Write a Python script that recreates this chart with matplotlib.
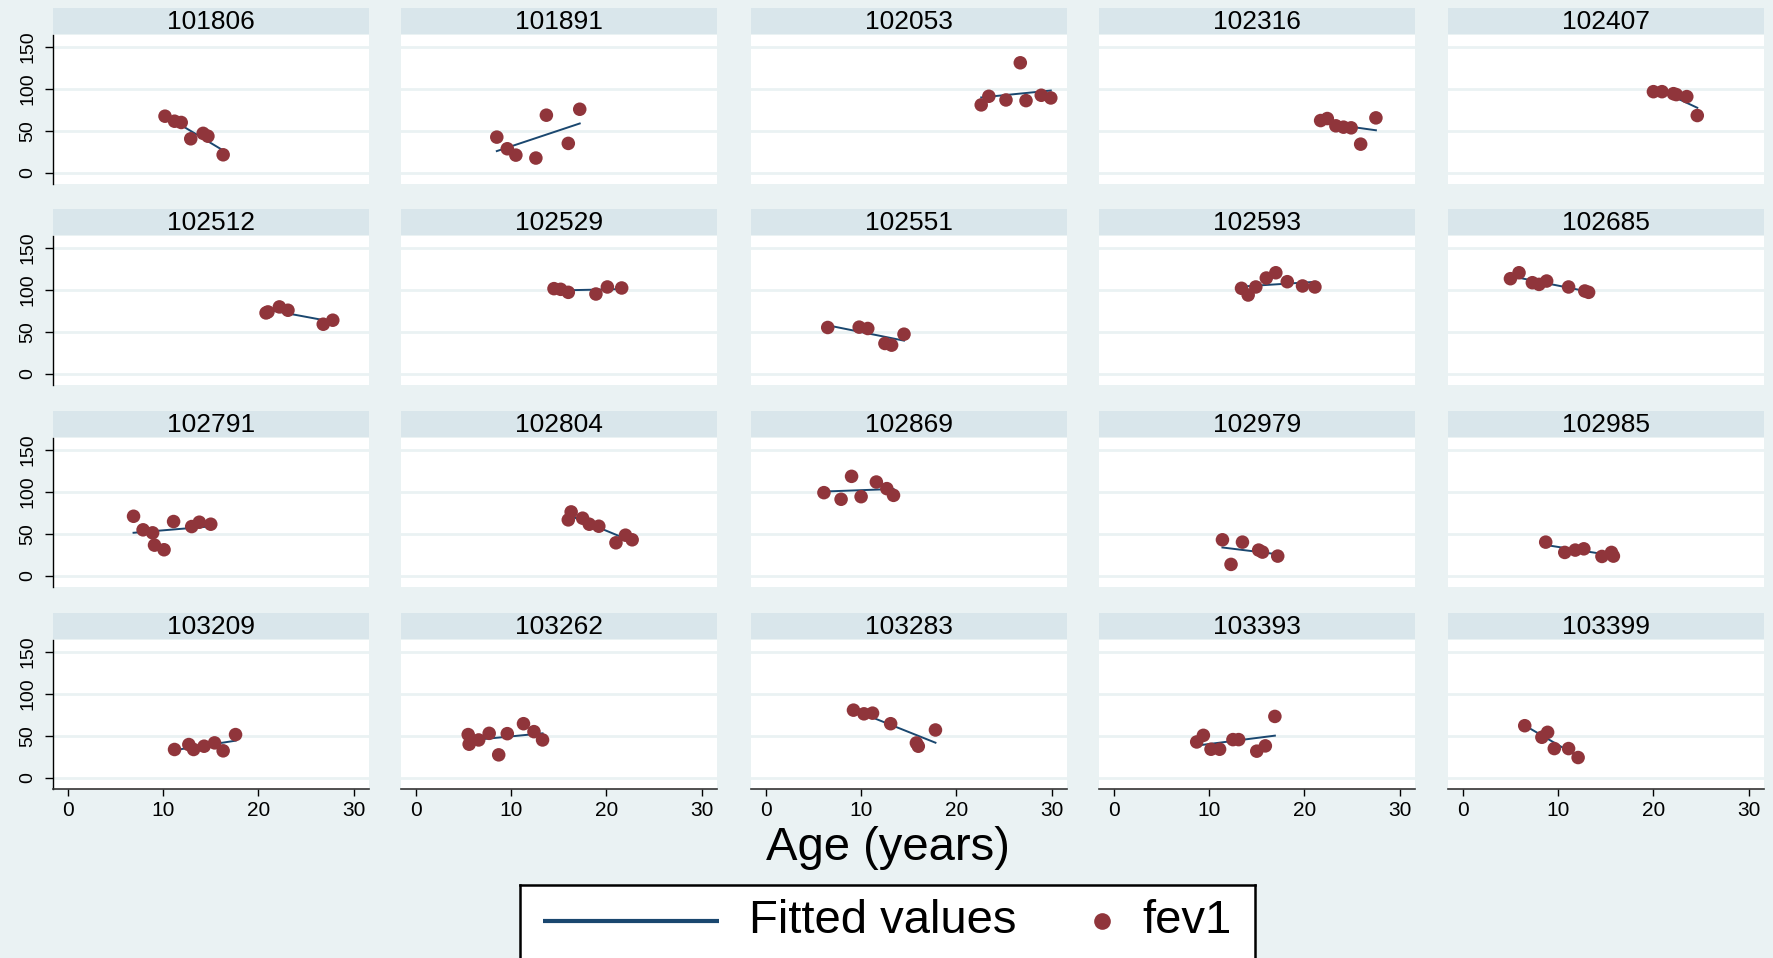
import numpy as np
import matplotlib
matplotlib.use("Agg")
import matplotlib.pyplot as plt

plt.rcParams['font.family'] = ['Liberation Sans', 'DejaVu Sans']

# ids of the 20 subjects (panel titles)
ids = ["101806", "101891", "102053", "102316", "102407",
       "102512", "102529", "102551", "102593", "102685",
       "102791", "102804", "102869", "102979", "102985",
       "103209", "103262", "103283", "103393", "103399"]

# age (years) per subject
ages = [
    [10.2, 11.2, 11.9, 12.9, 14.2, 14.7, 16.3],
    [8.5, 9.6, 10.5, 12.6, 13.7, 16.0, 17.2],
    [22.6, 23.4, 25.2, 26.7, 27.3, 28.9, 29.9],
    [21.7, 22.4, 23.3, 24.1, 24.9, 25.9, 27.5],
    [20.0, 20.9, 22.1, 22.4, 23.5, 24.6],
    [20.8, 21.0, 22.2, 23.1, 26.8, 27.8],
    [14.5, 15.2, 16.0, 18.9, 20.1, 21.6],
    [6.5, 9.8, 10.7, 12.5, 13.2, 14.5],
    [13.4, 14.1, 14.9, 16.0, 17.0, 18.2, 19.8, 21.1],
    [5.0, 5.9, 7.3, 8.0, 8.8, 11.1, 12.8, 13.2],
    [6.9, 7.9, 8.9, 9.1, 10.1, 11.1, 13.0, 13.8, 15.0],
    [16.0, 16.3, 17.5, 18.2, 19.2, 21.0, 22.0, 22.7],
    [6.1, 7.9, 9.0, 10.0, 11.6, 12.7, 13.4],
    [11.4, 12.3, 13.5, 15.2, 15.6, 17.2],
    [8.7, 10.7, 11.8, 12.7, 14.6, 15.6, 15.8],
    [11.2, 12.7, 13.2, 14.3, 15.4, 16.3, 17.6],
    [5.5, 5.6, 6.6, 7.7, 8.7, 9.6, 11.3, 12.4, 13.3],
    [9.2, 10.3, 11.2, 13.1, 15.8, 16.0, 17.8],
    [8.7, 9.4, 10.2, 11.1, 12.5, 13.1, 15.0, 15.9, 16.9],
    [6.5, 8.3, 8.9, 9.6, 11.1, 12.1],
]

# fev1 per subject
fev1 = [
    [67.5, 61.5, 60, 40.5, 47, 43.6, 21.4],
    [42.5, 28.6, 21, 17.5, 68.7, 35, 75.8],
    [81, 91.3, 86.9, 131.3, 86.1, 92.5, 89.3],
    [62.3, 64.7, 56, 54.4, 53.6, 34.1, 65.5],
    [96.8, 96.8, 94.4, 93.3, 90.9, 68.3],
    [72.6, 73.8, 79.8, 75.8, 59.1, 63.9],
    [101.6, 100.8, 97.2, 95.2, 103.6, 102.4],
    [55.2, 55.6, 54, 36.1, 34.1, 47.2],
    [102, 94, 103.6, 114.3, 120.6, 109.9, 104.8, 103.6],
    [113.5, 120.6, 108.7, 106.7, 110.7, 103.6, 98.8, 97.2],
    [71, 54.8, 51.2, 36.5, 31, 64.7, 58.7, 63.9, 61.5],
    [66.7, 76.2, 68.7, 61.5, 59.1, 39.3, 48.4, 42.9],
    [99.2, 91.3, 118.7, 94.4, 111.9, 104, 96],
    [42.9, 13.5, 40.1, 30.6, 28.2, 23.4],
    [40.1, 27.8, 30.6, 32.1, 23, 27.8, 23.4],
    [33.7, 39.6, 33.7, 37.6, 41.6, 32.1, 51.5],
    [51.5, 40, 45.1, 53, 27.3, 52.6, 64.5, 55, 45.1],
    [80.7, 76.3, 77.1, 64.5, 41.5, 37.6, 57],
    [42.7, 50.6, 34, 34, 45.5, 45.5, 31.7, 38, 73.2],
    [62.1, 48.3, 54.2, 34.8, 34.8, 24.1],
]

xticks = [0, 10, 20, 30]
yticks = [0, 50, 100, 150]

bg = '#EAF2F3'
strip_c = '#D9E6EB'
dot_c = '#90353B'
line_c = '#1A476F'

W, H = 1773, 958
fig = plt.figure(figsize=(W / 100, H / 100), dpi=100, facecolor=bg)

col_left = [53, 401, 751, 1099, 1448]
col_w = 316
row_top = [8, 209, 411, 613]
strip_h = 26
plot_h = 149

for k, pid in enumerate(ids):
    r, c = divmod(k, 5)
    x0 = col_left[c]
    y0 = row_top[r]
    # title strip
    sax = fig.add_axes([x0 / W, 1 - (y0 + strip_h) / H, col_w / W, strip_h / H])
    sax.set_facecolor(strip_c)
    sax.set_xticks([])
    sax.set_yticks([])
    for s in sax.spines.values():
        s.set_visible(False)
    sax.text(0.5, 0.48, pid, ha='center', va='center', fontsize=19, transform=sax.transAxes)

    ax = fig.add_axes([x0 / W, 1 - (y0 + strip_h + 1 + plot_h) / H, col_w / W, plot_h / H])
    ax.set_facecolor('white')
    ax.set_xlim(-1.55, 31.6)
    ax.set_ylim(-13.5, 164.5)
    for yv in yticks:
        ax.axhline(yv, color=bg, lw=2, zorder=0)
    xs = np.array(ages[k])
    ys = np.array(fev1[k])
    b, a = np.polyfit(xs, ys, 1)
    xl = np.array([xs.min(), xs.max()])
    ax.plot(xl, a + b * xl, color=line_c, lw=1.4, zorder=2)
    ax.scatter(xs, ys, s=95, color=dot_c, edgecolors='none', zorder=3)

    for s in ax.spines.values():
        s.set_visible(False)
    ax.set_xticks(xticks)
    ax.set_yticks(yticks)
    ax.tick_params(length=0, labelleft=False, labelbottom=False)
    if c == 0:
        ax.spines['left'].set_visible(True)
        ax.spines['left'].set_color('black')
        ax.spines['left'].set_linewidth(1)
        ax.tick_params(axis='y', length=6, width=1, labelleft=True, labelsize=14, pad=6)
        for t in ax.get_yticklabels():
            t.set_rotation(90)
            t.set_va('center')
    if r == 3:
        ax.spines['bottom'].set_visible(True)
        ax.spines['bottom'].set_color('#333333')
        ax.spines['bottom'].set_linewidth(1.2)
        ax.tick_params(axis='x', length=5, width=1, labelbottom=True, labelsize=15, pad=4)

fig.text(888 / W, 1 - 848 / H, 'Age (years)', ha='center', va='center', fontsize=34)

# legend box, drawn by hand so the marker sits next to its label
lax = fig.add_axes([520 / W, 0, 735 / W, (958 - 885) / H])
lax.set_facecolor('white')
lax.set_xlim(520, 1255)
lax.set_ylim(958, 885)
lax.set_xticks([])
lax.set_yticks([])
for s in lax.spines.values():
    s.set_color('black')
    s.set_linewidth(1.8)
lax.spines['bottom'].set_visible(False)
lax.plot([543, 719], [921, 921], color=line_c, lw=3, solid_capstyle='butt')
lax.text(749, 921, 'Fitted values', ha='left', va='center', fontsize=34)
lax.plot([1102], [921], 'o', color=dot_c, markersize=12, markeredgewidth=0)
lax.text(1142, 921, 'fev1', ha='left', va='center', fontsize=34)

fig.savefig('out.png', dpi=100, facecolor=bg)
